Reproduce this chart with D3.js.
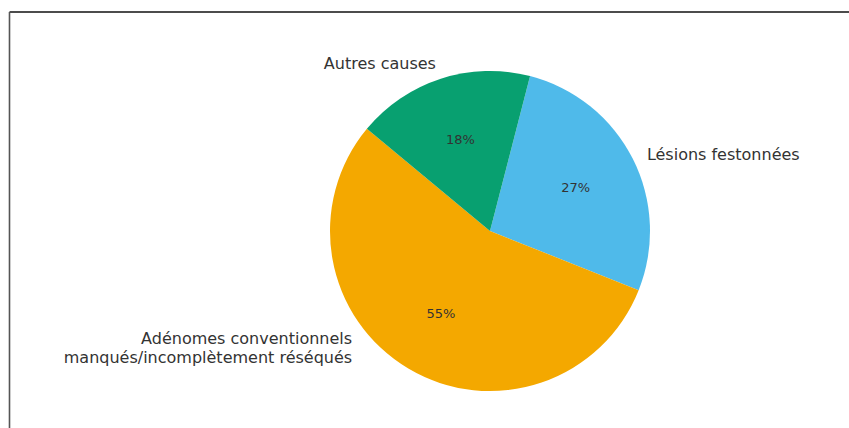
<!DOCTYPE html>
<html><head><meta charset="utf-8">
<script src="https://cdn.jsdelivr.net/npm/d3@7"></script>
<style>html,body{margin:0;padding:0;background:#fff}svg{display:block}</style>
</head><body>
<script>
const categories = ["Lésions festonnées", "Adénomes conventionnels\nmanqués/incomplètement réséqués", "Autres causes"];
const values = [27, 55, 18];
const pctLabels = ["27%", "55%", "18%"];
const colors = ["#4FBAEA", "#F4A800", "#08A070"];

const W = 849, H = 428;
const svg = d3.select("body").append("svg").attr("width", W).attr("height", H);

// frame
svg.append("line").attr("x1", 9.5).attr("x2", W).attr("y1", 12).attr("y2", 12).attr("stroke", "#111").attr("stroke-width", 1.6);
svg.append("line").attr("x1", 9.5).attr("x2", 9.5).attr("y1", 12).attr("y2", H).attr("stroke", "#555").attr("stroke-width", 1.6);

const cx = 490, cy = 231, r = 160;
const deg = Math.PI / 180;
const pie = d3.pie().sort(null).value(d => d).startAngle(14.5 * deg).endAngle(374.5 * deg);
const arcs = pie(values);
const arc = d3.arc().innerRadius(0).outerRadius(r);
const g = svg.append("g").attr("transform", `translate(${cx},${cy})`);

g.selectAll("path").data(arcs).join("path")
  .attr("d", arc).attr("fill", (d, i) => colors[i]);

const pctArc = d3.arc().innerRadius(r * 0.6).outerRadius(r * 0.6);
g.selectAll("text.pct").data(arcs).join("text")
  .attr("class", "pct")
  .attr("transform", d => { const c = pctArc.centroid(d); return `translate(${c[0]},${c[1]})`; })
  .attr("text-anchor", "middle").attr("dominant-baseline", "central")
  .attr("font-family", "DejaVu Sans, sans-serif").attr("font-size", 13)
  .attr("fill", "#333")
  .text((d, i) => pctLabels[i]);

// outer labels
const labelAngleAdj = [1, 19, 0]; // degrees shift for placement
const labelDist = [1.09, 1.13, 1.1];
arcs.forEach((d, i) => {
  const a = (d.startAngle + d.endAngle) / 2 + labelAngleAdj[i] * deg;
  const x = Math.sin(a) * r * labelDist[i];
  const y = -Math.cos(a) * r * labelDist[i];
  const lines = categories[i].split("\n");
  const t = g.append("text")
    .attr("font-family", "DejaVu Sans, sans-serif").attr("font-size", 16)
    .attr("fill", "#333")
    .attr("text-anchor", x < 0 ? "end" : "start");
  const lh = 18.5;
  const y0 = y - (lines.length - 1) * lh / 2;
  lines.forEach((ln, k) => {
    t.append("tspan").attr("x", x).attr("y", y0 + k * lh).attr("dy", "0.35em").text(ln);
  });
});
</script>
</body></html>
